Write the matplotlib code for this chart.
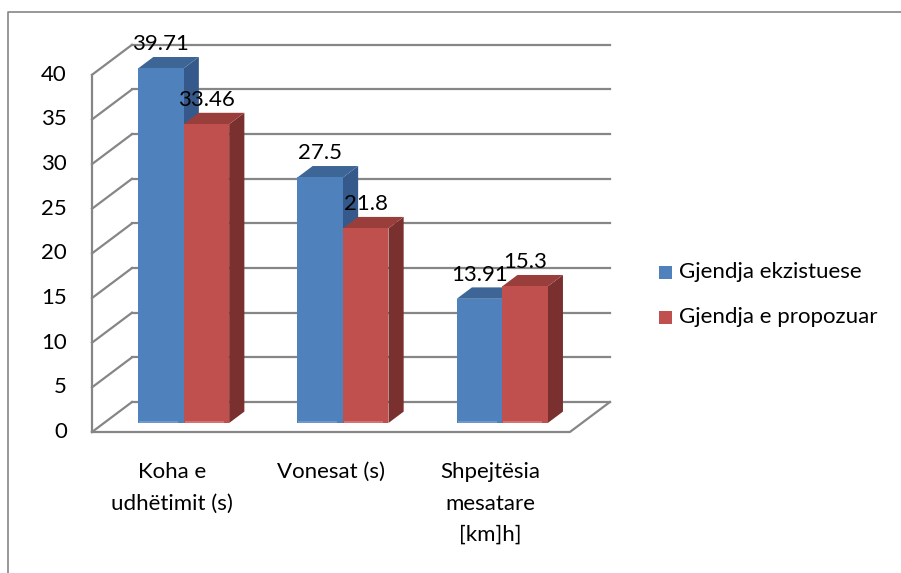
import matplotlib
matplotlib.use("Agg")
import matplotlib.pyplot as plt
from matplotlib.patches import Polygon, Rectangle
from matplotlib.lines import Line2D

# ---- data ----
categories = [["Koha e", "udhëtimit (s)"], ["Vonesat (s)"], ["Shpejtësia", "mesatare", "[km]h]"]]
series_names = ["Gjendja ekzistuese", "Gjendja e propozuar"]
existing = [39.71, 27.5, 13.91]
proposed = [33.46, 21.8, 15.3]
value_labels = [["39.71", "27.5", "13.91"], ["33.46", "21.8", "15.3"]]
y_ticks = [0, 5, 10, 15, 20, 25, 30, 35, 40]

# ---- styling ----
W, H, DPI = 901, 573, 100
FONT = "Lato"
FS = 16
GRID = "#868686"
front_cols = ["#4F81BD", "#C0504D"]
top_cols = ["#3D6696", "#9A3E3B"]
side_cols = ["#35598A", "#7A302E"]
low_cols = ["#6F98CC", "#D07572"]

# plot geometry (pixels): front-left-bottom corner, unit sizes, depth offset
X0, Y0 = 92.0, 432.0
PX_CAT = 159.3          # pixels per category slot
PX_VAL = 8.93           # pixels per value unit
DEPTH_PX = (40.0, -30.0)
Z0, Z1 = 0.30, 0.68     # depth span of the bars (fraction of floor depth)
GAP = 1.5               # gap width relative to bar width

fig = plt.figure(figsize=(W / DPI, H / DPI), dpi=DPI)
ax = fig.add_axes([0, 0, 1, 1])
ax.set_xlim(-X0 / PX_CAT, (W - X0) / PX_CAT)
ax.set_ylim(-(H - Y0) / PX_VAL, Y0 / PX_VAL)
ax.axis("off")

DX = DEPTH_PX[0] / PX_CAT
DY = -DEPTH_PX[1] / PX_VAL


def proj(x, y, z):
    return (x + z * DX, y + z * DY)


ncat = len(existing)
vmax = y_ticks[-1]

# back wall gridlines, side wall diagonals, left axis
for t in y_ticks:
    a = proj(0, t, 1)
    b = proj(ncat, t, 1)
    ax.add_line(Line2D([a[0], b[0]], [a[1], b[1]], color=GRID, lw=1.6, zorder=1))
    c = proj(0, t, 0)
    ax.add_line(Line2D([c[0], a[0]], [c[1], a[1]], color=GRID, lw=1.6, zorder=1))
ax.add_line(Line2D([0, 0], [0, vmax], color=GRID, lw=1.6, zorder=1))
# floor front and right edges
p0 = proj(0, 0, 0)
p1 = proj(ncat, 0, 0)
p2 = proj(ncat, 0, 1)
ax.add_line(Line2D([p0[0], p1[0], p2[0]], [p0[1], p1[1], p2[1]], color=GRID, lw=1.6, zorder=1))

# y tick labels
for t in y_ticks:
    ax.annotate(str(t), (0, t), xytext=(-25, 0), textcoords="offset pixels",
                ha="right", va="center", fontsize=FS, family=FONT, color="#000000")

# 3D columns
w = 1.0 / (2 + GAP)
series = [existing, proposed]
for i in range(ncat):
    for s, vals in enumerate(series):
        v = vals[i]
        xl = i + GAP / 2 * w + s * w
        xr = xl + w
        front = [proj(xl, 0, Z0), proj(xr, 0, Z0), proj(xr, v, Z0), proj(xl, v, Z0)]
        top = [proj(xl, v, Z0), proj(xr, v, Z0), proj(xr, v, Z1), proj(xl, v, Z1)]
        side = [proj(xr, 0, Z0), proj(xr, 0, Z1), proj(xr, v, Z1), proj(xr, v, Z0)]
        zb = 3 + i * 10 + s * 3
        ax.add_patch(Polygon(side, closed=True, fc=side_cols[s], ec="none", zorder=zb))
        ax.add_patch(Polygon(top, closed=True, fc=top_cols[s], ec="none", zorder=zb + 1))
        ax.add_patch(Polygon(front, closed=True, fc=front_cols[s], ec="none", zorder=zb + 2))
        # lighter strip along the base of the front face
        strip_h = 2.0 / PX_VAL
        lo = [proj(xl + 0.02 * w, 0, Z0), proj(xr - 0.12 * w, 0, Z0),
              proj(xr - 0.12 * w, strip_h, Z0), proj(xl + 0.02 * w, strip_h, Z0)]
        ax.add_patch(Polygon(lo, closed=True, fc=low_cols[s], ec="none", zorder=zb + 2.5))
        # value label above the column
        cx, cy = proj((xl + xr) / 2, v, Z0)
        ax.annotate(value_labels[s][i], (cx, cy), xytext=(0, 24), textcoords="offset pixels",
                    ha="center", va="center", fontsize=FS, family=FONT, color="#000000",
                    zorder=100)

# category labels
for i, lines in enumerate(categories):
    for k, line in enumerate(lines):
        ax.annotate(line, (i + 0.5, 0), xytext=(0, -40 - 31.5 * k), textcoords="offset pixels",
                    ha="center", va="center", fontsize=FS, family=FONT, color="#000000")


def fpx(x, y):
    return (x / W, 1 - y / H)


# legend
leg_y = [272, 317]
for s, name in enumerate(series_names):
    lx, ly = fpx(659, leg_y[s] - 6.5)
    fig.patches.append(Rectangle((lx, ly - 13 / H), 13 / W, 13 / H, transform=fig.transFigure,
                                 fc=front_cols[s], ec="none"))
    tx, ty = fpx(679, leg_y[s])
    fig.text(tx, ty, name, ha="left", va="center", fontsize=FS, family=FONT, color="#000000")

# chart area border
bx = [fpx(8, 573)[0], fpx(8, 12)[0], 1.0]
by = [0.0, fpx(8, 12)[1], fpx(8, 12)[1]]
fig.add_artist(Line2D(bx, by, transform=fig.transFigure, color=GRID, lw=1.2))

fig.savefig("out.png", dpi=DPI, facecolor="white")
